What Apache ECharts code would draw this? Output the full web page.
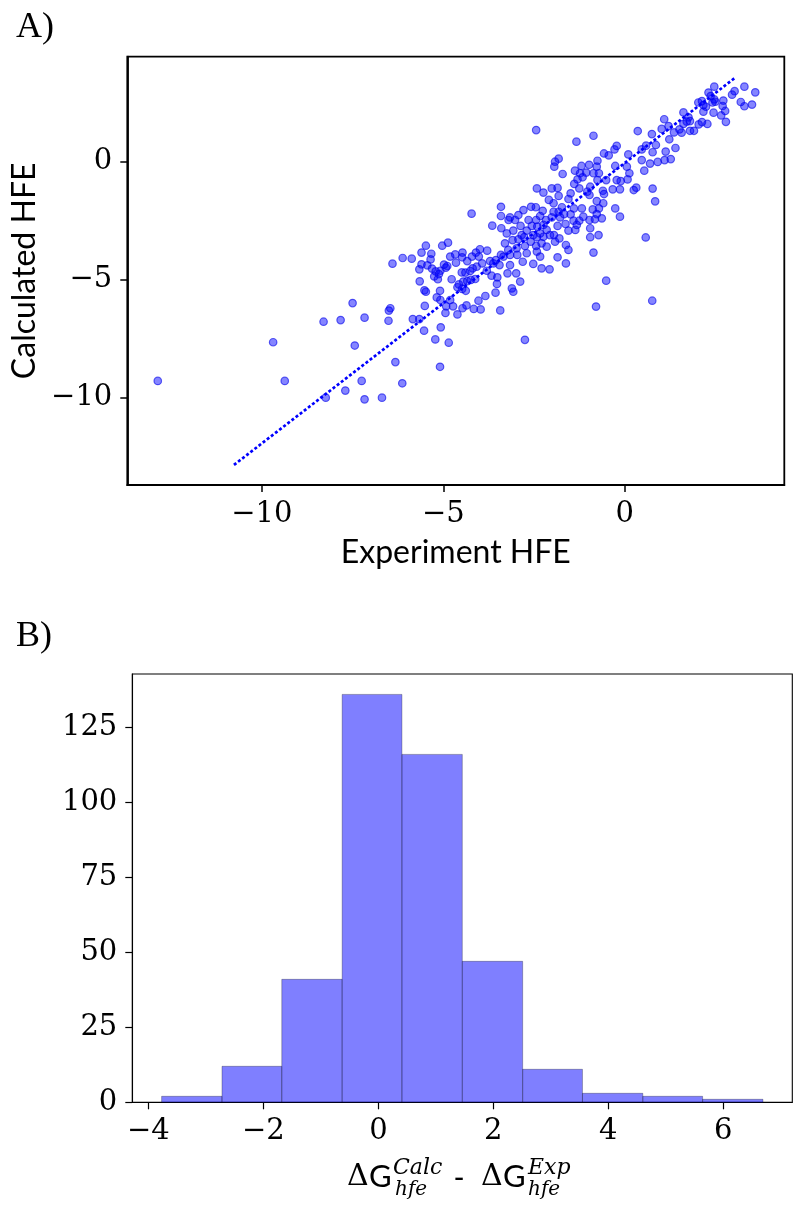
<!DOCTYPE html>
<html><head><meta charset="utf-8">
<script src="https://cdn.jsdelivr.net/npm/echarts@6/dist/echarts.min.js"></script>
<style>html,body{margin:0;padding:0;background:#fff}#c{width:798px;height:1206px}</style>
</head><body><div id="c"></div>
<script>
// ---- Panel A: scatter (Experiment HFE vs Calculated HFE) ----
const expX = [
-12.87,-9.69,-9.37,-8.30,-7.83,-7.50,-7.17,-7.44,-8.24,-7.70,
-7.25,-7.17,-6.69,-6.13,-6.32,-5.09,
-4.22,-3.41,-3.41,-3.65,-3.40,-5.48,-5.03,-4.87,-5.60,-5.33,
-5.35,-6.12,-5.87,-6.40,-5.60,-5.66,-5.44,-5.31,-5.21,-5.08,
-4.93,-4.81,-4.67,-4.47,-4.48,-4.34,-4.21,-4.10,-3.99,-3.79,
-4.02,-3.93,-4.08,-4.19,-3.71,-3.55,-3.41,-3.45,-3.62,-4.98,
-4.89,-5.12,-5.25,-5.15,-4.77,-4.49,-4.39,-4.26,-5.65,-5.52,
-5.48,-5.09,-4.57,-4.45,-4.34,-4.48,-4.38,-4.24,-4.12,-3.67,
-3.51,-3.52,-3.56,-5.18,-5.08,-3.84,-4.03,-5.51,-4.92,-4.73,
-4.36,-4.47,-4.16,-3.97,-3.43,-4.94,-4.61,-6.50,-6.46,-6.51,
-5.84,-5.66,-5.07,-5.53,-5.22,-4.85,-4.65,-3.80,-4.61,-4.81,
-2.44,-0.86,-1.33,0.36,-0.22,-0.28,-0.57,-0.44,0.10,-1.82,
-1.92,-1.94,-0.75,-0.98,-0.77,-1.71,-1.37,-1.23,-1.06,-1.16,
-1.30,-0.86,-0.71,-0.75,-0.51,-0.26,0.06,0.13,0.08,-0.11,
-0.22,-0.33,-0.13,0.25,0.32,-1.39,-1.25,-1.03,-0.97,-0.95,
-0.60,-0.57,-1.49,-1.55,-1.82,-2.01,-1.85,-2.24,-2.42,-2.09,
-1.96,-0.77,-1.18,-0.88,-0.71,-0.77,-0.26,-0.13,-0.63,-0.82,
-0.97,-0.95,-1.40,-1.49,-1.73,-1.67,-1.82,-1.96,-1.78,-1.41,
-1.32,-1.25,-1.36,-1.63,-1.55,-1.85,-2.01,-2.17,-2.33,-2.26,
-2.45,-2.58,-2.79,-2.93,-3.16,-3.20,-3.02,-2.87,-2.65,-2.56,
-2.44,-2.41,-2.24,-2.15,-2.33,-2.52,-2.70,-2.84,-3.07,-3.25,
-3.30,-3.09,-2.93,-2.77,-2.59,-2.42,-2.24,-2.29,-2.06,-1.95,
-1.92,-1.80,-2.15,-2.44,-2.75,-2.98,-3.21,-3.34,-3.16,-2.96,
-2.70,-2.42,-2.33,-2.81,-2.52,-2.29,-2.07,-1.85,-1.62,-1.55,
-1.62,-3.16,-3.23,-2.99,-2.88,-3.11,-0.95,-0.72,-0.86,-0.51,
0.58,-1.14,-0.59,-1.19,-0.79,-2.75,-3.07,0.76,
3.30,3.60,3.03,2.96,2.47,2.31,2.37,2.47,2.50,2.42,
2.13,2.03,2.17,2.24,2.72,2.70,2.77,2.66,2.79,2.45,
2.17,3.20,3.30,3.51,1.62,1.76,1.80,1.71,2.13,2.28,
2.04,1.62,1.57,1.80,1.91,1.51,1.36,1.09,1.21,1.02,
0.75,1.23,0.86,0.59,0.47,0.77,1.13,1.40,1.27,1.10,
0.91,0.70,0.47,0.54,0.77,0.84
];
const calcY = [
-9.29,-7.65,-9.29,-6.78,-6.71,-5.99,-6.61,-7.79,-10.00,-9.70,
-9.29,-10.07,-10.00,-9.39,-8.49,-8.69,
-2.20,-1.91,-2.30,-2.71,-2.82,-3.56,-3.56,-3.43,-3.85,-3.90,
-4.14,-4.08,-4.11,-4.32,-4.35,-4.56,-4.39,-4.53,-4.65,-4.62,
-4.49,-4.02,-3.93,-3.85,-4.05,-4.21,-4.02,-3.85,-3.71,-3.77,
-4.02,-4.31,-4.45,-4.52,-4.21,-4.17,-3.95,-4.38,-4.31,-4.36,
-4.42,-4.76,-4.86,-4.98,-4.98,-4.69,-4.70,-4.63,-5.07,-5.45,
-5.51,-5.47,-5.20,-5.08,-5.06,-5.39,-5.47,-5.01,-4.97,-4.83,
-4.90,-5.18,-5.55,-5.75,-5.86,-5.69,-5.89,-6.11,-6.13,-6.13,
-6.09,-6.21,-6.24,-6.26,-6.30,-6.41,-6.47,-6.31,-6.21,-6.74,
-6.67,-6.67,-7.02,-7.16,-7.53,-7.67,-4.28,-4.62,-5.32,-5.86,
1.34,1.10,0.85,1.30,0.67,0.52,0.35,0.27,0.31,0.13,
0.00,-0.21,0.04,-0.13,-0.21,-0.52,-0.38,-0.49,-0.46,-0.66,
-0.75,-0.49,-0.49,-0.78,-0.78,-0.18,-0.21,-0.49,-0.75,-0.82,
-0.78,-1.17,-1.17,-1.20,-1.10,-0.94,-1.13,-1.27,-1.41,-1.06,
-1.23,-1.37,-1.34,-1.58,-1.45,-1.13,-1.11,-1.31,-1.13,-1.62,
-1.76,-1.67,-1.98,-2.02,-1.98,-2.22,-1.98,-2.33,-2.40,-2.44,
-2.47,-2.82,-1.98,-2.23,-1.93,-2.22,-2.12,-2.12,-2.36,-2.50,
-2.68,-2.50,-2.89,-2.64,-2.92,-2.72,-2.36,-2.47,-2.30,-2.08,
-1.93,-1.91,-2.05,-2.26,-2.36,-2.47,-2.47,-2.72,-2.47,-2.72,
-2.47,-2.75,-2.68,-2.89,-3.04,-3.11,-2.92,-3.11,-2.92,-3.04,
-3.46,-3.32,-3.29,-3.20,-3.39,-3.20,-3.18,-3.46,-3.11,-3.11,
-3.39,-3.25,-3.60,-3.57,-3.57,-3.67,-3.74,-4.02,-3.95,-3.95,
-3.88,-3.81,-4.02,-4.24,-4.33,-4.52,-4.56,-4.05,-4.31,-3.74,
-3.53,-4.38,-4.73,-4.73,-5.08,-5.37,-3.20,-3.11,-3.85,-5.04,
-3.21,-2.33,-1.76,-0.18,-6.14,-7.55,-5.51,-5.89,
3.18,2.94,2.99,2.84,3.18,2.93,2.78,2.64,2.54,2.51,
2.57,2.51,2.40,2.33,2.59,2.36,2.15,1.96,1.69,2.08,
2.12,2.53,2.35,2.42,2.09,1.88,1.72,1.70,1.68,1.60,
1.58,1.60,1.23,1.31,1.31,1.37,1.24,1.80,1.51,1.39,
1.17,0.95,0.71,0.68,0.52,0.40,0.43,0.58,0.11,0.07,
-0.01,-0.08,0.07,-0.38,-1.14,-1.68
];
// fitted dotted line (end points)
const fitX = [-10.77, 3.02];
const fitY = [-12.85, 3.53];
const scatterXTicks = [-10, -5, 0];
const scatterYTicks = [-10, -5, 0];

// ---- Panel B: histogram of Calc - Exp ----
const binEdges = [-3.77, -2.72, -1.68, -0.63, 0.41, 1.46, 2.51, 3.55, 4.60, 5.64, 6.69];
const counts = [2, 12, 41, 136, 116, 47, 11, 3, 2, 1];
const histXTicks = [-4, -2, 0, 2, 4, 6];
const histYTicks = [0, 25, 50, 75, 100, 125];

const fmt = v => (v < 0 ? '\u2212' + Math.abs(v) : String(v));
const tickFont = 'DejaVu Serif';

const chart = echarts.init(document.getElementById('c'), null, {renderer: 'canvas'});

function valueAxis(gridIndex, min, max, ticks, extra) {
  return Object.assign({
    type: 'value', gridIndex, min, max,
    splitLine: {show: false},
    axisLine: {show: true, onZero: false, lineStyle: {color: '#000', width: gridIndex === 0 ? 1.8 : 1.1}},
    axisTick: {show: true, inside: false, length: 7, customValues: ticks,
               lineStyle: {color: '#000', width: gridIndex === 0 ? 1.5 : 1.2}},
    axisLabel: {customValues: ticks, formatter: fmt, fontFamily: tickFont, fontSize: 29, color: '#000', margin: 15}
  }, extra || {});
}

const histText = [
  {t: '\u0394', x: 347, y: 1177, f: '30px "DejaVu Serif"'},
  {t: 'G', x: 369, y: 1177, f: '31px Lato'},
  {t: 'Calc', x: 393, y: 1168, f: 'italic 22px "DejaVu Serif"'},
  {t: 'hfe', x: 395, y: 1190, f: 'italic 20px "DejaVu Serif"'},
  {t: '-', x: 459, y: 1178, f: '30px Lato', a: 'center'},
  {t: '\u0394', x: 481, y: 1177, f: '30px "DejaVu Serif"'},
  {t: 'G', x: 503, y: 1177, f: '31px Lato'},
  {t: 'Exp', x: 528, y: 1168, f: 'italic 22px "DejaVu Serif"'},
  {t: 'hfe', x: 528, y: 1190, f: 'italic 20px "DejaVu Serif"'}
];

const option = {
  animation: false,
  backgroundColor: '#fff',
  grid: [
    {left: 127.3, top: 56.7, width: 657, height: 428.3, show: true, borderColor: '#000', borderWidth: 1.8, containLabel: false},
    {left: 132.3, top: 674, width: 660, height: 428.3, show: true, borderColor: '#000', borderWidth: 1.1, containLabel: false}
  ],
  xAxis: [
    valueAxis(0, -13.71, 4.40, scatterXTicks, {
      name: 'Experiment HFE', nameLocation: 'middle', nameGap: 52,
      nameTextStyle: {fontFamily: 'Lato', fontSize: 32, color: '#000'}
    }),
    valueAxis(1, -4.28, 7.20, histXTicks)
  ],
  yAxis: [
    valueAxis(0, -13.70, 4.45, scatterYTicks, {
      name: 'Calculated HFE', nameLocation: 'middle', nameGap: 81,
      nameTextStyle: {fontFamily: 'Lato', fontSize: 32, color: '#000'}
    }),
    valueAxis(1, 0, 142.8, histYTicks)
  ],
  series: [
    {
      type: 'scatter', xAxisIndex: 0, yAxisIndex: 0,
      data: expX.map((x, i) => [x, calcY[i]]),
      symbol: 'circle', symbolSize: 7.5,
      itemStyle: {color: 'rgba(0,0,255,0.6)', borderColor: 'rgba(0,0,235,0.75)', borderWidth: 1.2},
      z: 2
    },
    {
      type: 'line', xAxisIndex: 0, yAxisIndex: 0,
      data: fitX.map((x, i) => [x, fitY[i]]),
      symbol: 'none',
      lineStyle: {color: '#0000ff', width: 2.7, type: [3, 2.2]},
      z: 3
    },
    {
      type: 'custom', xAxisIndex: 1, yAxisIndex: 1,
      data: counts.map((c, i) => [binEdges[i], binEdges[i + 1], c]),
      encode: {x: [0, 1], y: 2},
      renderItem: function (params, api) {
        const p0 = api.coord([api.value(0), 0]);
        const p1 = api.coord([api.value(1), api.value(2)]);
        return {
          type: 'rect',
          shape: {x: p0[0], y: p1[1], width: p1[0] - p0[0], height: p0[1] - p1[1]},
          style: {fill: 'rgba(0,0,255,0.5)', stroke: 'rgba(0,0,0,0.4)', lineWidth: 0.7}
        };
      }
    }
  ],
  graphic: [
    {type: 'text', x: 16, y: 28, style: {text: 'A)', font: '36px "Liberation Serif"', fill: '#000', textAlign: 'left', textVerticalAlign: 'middle'}},
    {type: 'text', x: 16, y: 637, style: {text: 'B)', font: '36px "Liberation Serif"', fill: '#000', textAlign: 'left', textVerticalAlign: 'middle'}}
  ].concat(histText.map(p => ({
    type: 'text', x: p.x, y: p.y,
    style: {text: p.t, font: p.f, fill: '#000', textAlign: p.a || 'left', textVerticalAlign: 'middle'}
  })))
};
chart.setOption(option);
</script>
</body></html>
